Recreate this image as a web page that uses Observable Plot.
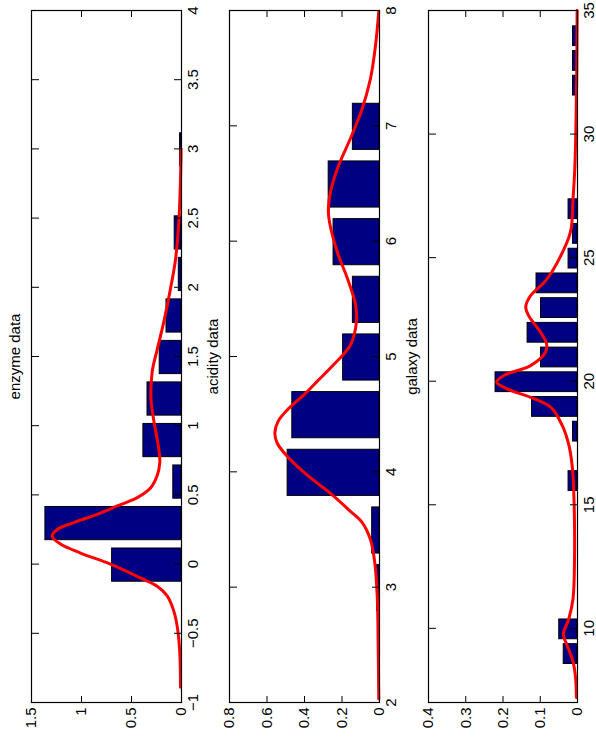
<!DOCTYPE html>
<html>
<head>
<meta charset="utf-8">
<script src="https://cdn.jsdelivr.net/npm/d3@7"></script>
<script src="https://cdn.jsdelivr.net/npm/@observablehq/plot@0.6"></script>
<style>
  html, body { margin: 0; padding: 0; background: #fff; }
  /* the three stacked panels are laid out landscape and turned a quarter turn */
  #figure {
    position: absolute; left: 0; top: 738px;
    width: 738px; height: 596px;
    transform-origin: 0 0; transform: rotate(-90deg);
    background: #fff;
  }
  #figure svg { display: block; }
</style>
</head>
<body>
<div id="figure"></div>
<script>
// ---- enzyme data: histogram (bin width 0.3) and fitted mixture density
const enzymeBins    = [0, 0.3, 0.6, 0.9, 1.2, 1.5, 1.8, 2.1, 2.4, 3.0];
const enzymeDensity = [0.694, 1.361, 0.082, 0.381, 0.340, 0.218, 0.150, 0.027, 0.068, 0.014];
const enzymeFitX = [-0.89, -0.64, -0.45, -0.34, -0.23, -0.16, -0.10, 0.0, 0.08, 0.145, 0.2, 0.25, 0.30, 0.36, 0.42, 0.48, 0.55, 0.64, 0.735, 0.83, 0.95, 1.05, 1.19, 1.39, 1.55, 1.75, 1.99, 2.20, 2.47, 2.78, 3.0];
const enzymeFitY = [0.01, 0.017, 0.043, 0.077, 0.143, 0.243, 0.41, 0.71, 1.01, 1.21, 1.293, 1.243, 1.077, 0.843, 0.643, 0.443, 0.31, 0.243, 0.217, 0.227, 0.255, 0.28, 0.305, 0.293, 0.243, 0.177, 0.11, 0.06, 0.027, 0.01, 0.004];
const enzymeTicksX = [-1, -0.5, 0, 0.5, 1, 1.5, 2, 2.5, 3, 3.5, 4];
const enzymeTicksY = [0, 0.5, 1, 1.5];

// ---- acidity data: histogram (bin width 0.5) and fitted mixture density
const acidityBins    = [3.0, 3.5, 4.0, 4.5, 5.0, 5.5, 6.0, 6.5, 7.0];
const acidityDensity = [0.013, 0.039, 0.490, 0.465, 0.194, 0.142, 0.245, 0.271, 0.142];
const acidityFitX = [2.03, 2.49, 2.92, 3.21, 3.41, 3.56, 3.67, 3.80, 3.96, 4.12, 4.25, 4.34, 4.44, 4.55, 4.68, 4.78, 4.93, 5.10, 5.30, 5.45, 5.68, 5.91, 6.20, 6.30, 6.43, 6.66, 6.89, 7.15, 7.41, 7.70, 7.99];
const acidityFitY = [0.004, 0.007, 0.012, 0.025, 0.048, 0.092, 0.164, 0.252, 0.377, 0.484, 0.546, 0.558, 0.54, 0.484, 0.395, 0.335, 0.244, 0.155, 0.123, 0.128, 0.172, 0.226, 0.270, 0.272, 0.261, 0.217, 0.155, 0.092, 0.048, 0.021, 0.004];
const acidityTicksX = [2, 3, 4, 5, 6, 7, 8];
const acidityTicksY = [0, 0.2, 0.4, 0.6, 0.8];

// ---- galaxy data: histogram (bin width 1) and fitted mixture density
const galaxyBins    = [9, 10, 16, 18, 19, 20, 21, 22, 23, 24, 25, 26, 27, 32, 33, 34];
const galaxyDensity = [0.037, 0.049, 0.024, 0.012, 0.122, 0.220, 0.098, 0.134, 0.098, 0.110, 0.024, 0.012, 0.024, 0.012, 0.012, 0.012];
const galaxyFitX = [7.2, 7.97, 8.65, 9.32, 9.75, 10.40, 11.2, 12.82, 15.51, 16.53, 17.40, 18.21, 18.95, 19.35, 19.69, 19.96, 20.23, 20.63, 21.17, 21.51, 21.98, 22.65, 22.99, 23.46, 24.06, 24.81, 26.03, 27.37, 28.7, 30.5, 32.5, 35];
const galaxyFitY = [0.003, 0.005, 0.012, 0.028, 0.038, 0.023, 0.012, 0.008, 0.01, 0.014, 0.023, 0.041, 0.072, 0.126, 0.189, 0.217, 0.198, 0.126, 0.086, 0.083, 0.099, 0.131, 0.139, 0.126, 0.086, 0.054, 0.019, 0.012, 0.007, 0.004, 0.002, 0.001];
const galaxyTicksX = [10, 15, 20, 25, 30, 35];
const galaxyTicksY = [0, 0.1, 0.2, 0.3, 0.4];

const titles = ["enzyme data", "acidity data", "galaxy data"];

const panels = [
  {title: titles[0], bins: enzymeBins, density: enzymeDensity, binWidth: 0.3,
   fitX: enzymeFitX, fitY: enzymeFitY, xDomain: [-1, 4], yDomain: [0, 1.5],
   xTicks: enzymeTicksX, yTicks: enzymeTicksY, height: 199, marginTop: 31, marginBottom: 18},
  {title: titles[1], bins: acidityBins, density: acidityDensity, binWidth: 0.5,
   fitX: acidityFitX, fitY: acidityFitY, xDomain: [2, 8], yDomain: [0, 0.8],
   xTicks: acidityTicksX, yTicks: acidityTicksY, height: 199, marginTop: 30, marginBottom: 19},
  {title: titles[2], bins: galaxyBins, density: galaxyDensity, binWidth: 1,
   fitX: galaxyFitX, fitY: galaxyFitY, xDomain: [7, 35], yDomain: [0, 0.4],
   xTicks: galaxyTicksX, yTicks: galaxyTicksY, height: 198, marginTop: 30, marginBottom: 19}
];

function drawPanel(p) {
  const bars = p.bins.map((center, i) => ({center, density: p.density[i]}));
  const fit = p.fitX.map((x, i) => ({x, y: p.fitY[i]}));
  const half = 0.4 * p.binWidth; // bars fill 80% of each bin
  return Plot.plot({
    width: 738,
    height: p.height,
    marginLeft: 35,
    marginRight: 11,
    marginTop: p.marginTop,
    marginBottom: p.marginBottom,
    style: {
      fontFamily: "'Liberation Sans', Arial, Helvetica, sans-serif",
      fontSize: "15px",
      color: "#000",
      background: "#fff",
      overflow: "visible"
    },
    x: {domain: p.xDomain},
    y: {domain: p.yDomain},
    marks: [
      Plot.rectY(bars, {
        x1: d => d.center - half,
        x2: d => d.center + half,
        y1: 0,
        y2: "density",
        fill: "#000083",
        stroke: "#000",
        strokeWidth: 1
      }),
      Plot.line(fit, {x: "x", y: "y", stroke: "#ff0000", strokeWidth: 3, curve: "catmull-rom"}),
      Plot.frame({stroke: "#000", strokeWidth: 1.2}),
      Plot.axisX(p.xTicks, {anchor: "bottom", tickSize: -7, tickPadding: 13, tickFormat: "~g", label: null}),
      Plot.axisX(p.xTicks, {anchor: "top", tickSize: -7, fill: "none", label: null}),
      Plot.axisY(p.yTicks, {anchor: "left", tickSize: -7, tickPadding: 12, tickFormat: "~g", label: null}),
      Plot.axisY(p.yTicks, {anchor: "right", tickSize: -7, fill: "none", label: null}),
      Plot.text([p.title], {text: d => d, frameAnchor: "top", lineAnchor: "bottom", dy: -12, fill: "#000"})
    ]
  });
}

const figure = document.getElementById("figure");
for (const p of panels) figure.appendChild(drawPanel(p));
</script>
</body>
</html>
